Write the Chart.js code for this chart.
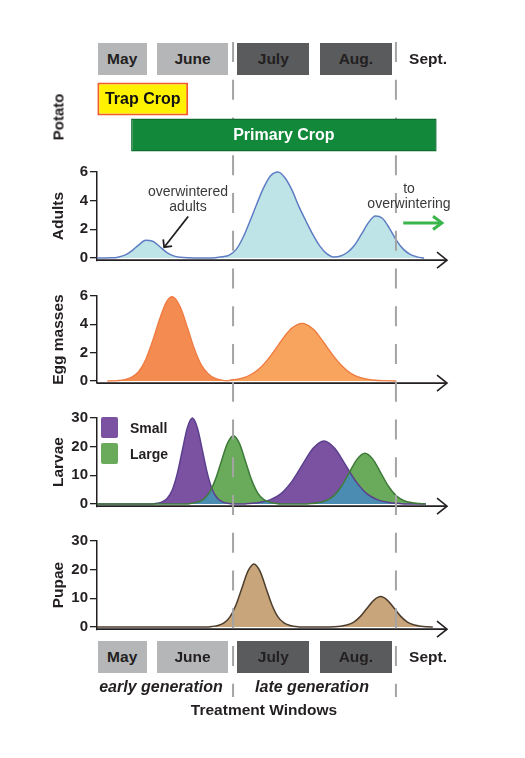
<!DOCTYPE html>
<html>
<head>
<meta charset="utf-8">
<script src="https://cdn.jsdelivr.net/npm/chart.js@4.4.1/dist/chart.umd.min.js"></script>
<style>
html,body{margin:0;padding:0;background:#fff;}
#page{position:relative;width:525px;height:758px;overflow:hidden;background:#fff;
  font-family:"Liberation Sans",Arial,Helvetica,sans-serif;color:#231f20;}
canvas{position:absolute;left:0;}
.panel{z-index:1;}
#overlay{top:0;z-index:3;}
#crop{z-index:4;}
.mbox{position:absolute;height:32px;display:flex;align-items:center;justify-content:center;
  font-weight:bold;font-size:15.5px;z-index:2;}
.light{background:#b5b6b8;}
.dark{background:#5a5b5d;}
.c{position:absolute;transform:translate(-50%,-50%);white-space:nowrap;line-height:1;z-index:5;}
.lt{position:absolute;transform:translate(0,-50%);white-space:nowrap;line-height:1;z-index:5;}
.b{font-weight:bold;}
.rot{transform:translate(-50%,-50%) rotate(-90deg);}
.note{position:absolute;text-align:center;font-size:14px;line-height:15px;color:#3a3a3a;z-index:5;}
.lg{position:absolute;width:17px;height:21px;border-radius:2px;z-index:5;box-shadow:0 0 0 1px rgba(255,255,255,0.8);}
</style>
</head>
<body>
<div id="page">
  <!-- top month row -->
  <div class="mbox light" style="left:97.7px;top:42.5px;width:49px;">May</div>
  <div class="mbox light" style="left:156.7px;top:42.5px;width:71.6px;">June</div>
  <div class="mbox dark" style="left:237.3px;top:42.5px;width:72px;">July</div>
  <div class="mbox dark" style="left:320px;top:42.5px;width:71.7px;">Aug.</div>
  <div class="c b" style="left:428px;top:58.5px;font-size:15.5px;">Sept.</div>

  <div class="c b rot" style="left:58.3px;top:117px;font-size:15px;">Potato</div>

  <canvas id="crop" width="525" height="84" style="top:76px;"></canvas>
  <canvas id="adults" class="panel" width="525" height="115" style="top:160px;"></canvas>
  <canvas id="eggs" class="panel" width="525" height="115" style="top:284px;"></canvas>
  <canvas id="larvae" class="panel" width="525" height="115" style="top:406px;"></canvas>
  <canvas id="pupae" class="panel" width="525" height="115" style="top:529px;"></canvas>
  <canvas id="overlay" width="525" height="758" style="width:525px;height:758px;"></canvas>

  <div class="note" style="left:128px;top:184px;width:120px;">overwintered<br>adults</div>
  <div class="note" style="left:349px;top:180.5px;width:120px;">to<br>overwintering</div>

  <div class="lg" style="left:101px;top:417px;background:#7b51a1;"></div>
  <div class="lg" style="left:101px;top:443px;background:#6aab5b;"></div>
  <div class="lt b" style="left:130px;top:428px;font-size:14px;">Small</div>
  <div class="lt b" style="left:130px;top:454px;font-size:14px;">Large</div>

  <!-- bottom month row -->
  <div class="mbox light" style="left:97.7px;top:640.5px;width:49px;">May</div>
  <div class="mbox light" style="left:156.7px;top:640.5px;width:71.6px;">June</div>
  <div class="mbox dark" style="left:237.3px;top:640.5px;width:72px;">July</div>
  <div class="mbox dark" style="left:320px;top:640.5px;width:71.7px;">Aug.</div>
  <div class="c b" style="left:428px;top:656.5px;font-size:15.5px;">Sept.</div>

  <div class="c b" style="left:161px;top:687px;font-size:16px;font-style:italic;">early generation</div>
  <div class="c b" style="left:312px;top:687px;font-size:16px;font-style:italic;">late generation</div>
  <div class="c b" style="left:264px;top:709.5px;font-size:15.5px;">Treatment Windows</div>
</div>

<script>
// ---------------- DATA (x = position through the season, 0-100) ----------------
const cropLabels = ['Trap Crop', 'Primary Crop'];
const cropSpans = [[0.1, 26.2], [9.8, 97.6]];
const windowBounds = [39.1, 85.9];

const adultsTicks = [0, 2, 4, 6];
const eggTicks = [0, 2, 4, 6];
const larvaeTicks = [0, 10, 20, 30];
const pupaeTicks = [0, 10, 20, 30];

const adultsX = [0, 2, 4, 6, 8, 10, 12, 14, 16, 18, 20, 22, 24, 26, 28, 34, 36, 38, 40, 42, 44, 46, 48, 50, 52, 54, 56, 58, 60, 62, 64, 66, 68, 70, 72, 74, 76, 78, 80, 82, 84, 86, 88, 90, 92, 94];
const adultsY = [0, 0, 0.01, 0.06, 0.2, 0.5, 0.92, 1.23, 1.17, 0.8, 0.4, 0.15, 0.05, 0.01, 0, 0.02, 0.08, 0.2, 0.6, 1.45, 2.6, 3.82, 4.96, 5.77, 6.0, 5.6, 4.75, 3.6, 2.6, 1.65, 0.85, 0.3, 0.07, 0.14, 0.4, 0.89, 1.66, 2.47, 2.93, 2.77, 2.09, 1.25, 0.62, 0.25, 0.08, 0];

const eggEarlyX = [3, 6, 8, 10, 12, 14, 16, 18, 20, 21.6, 24, 26, 28, 30, 32, 34, 36, 38];
const eggEarlyY = [0, 0.03, 0.1, 0.28, 0.67, 1.52, 2.84, 4.38, 5.6, 5.95, 5.19, 3.76, 2.26, 1.12, 0.5, 0.18, 0.05, 0.01];
const eggLateX = [38, 40, 42, 44, 46, 48, 50, 52, 54, 56, 59, 62, 64, 66, 68, 70, 72, 74, 76, 78, 80, 82, 86];
const eggLateY = [0.05, 0.11, 0.22, 0.42, 0.74, 1.21, 1.81, 2.5, 3.19, 3.74, 4.07, 3.69, 3.12, 2.43, 1.75, 1.16, 0.71, 0.4, 0.22, 0.11, 0.05, 0.02, 0];

const smallX = [0, 15.8, 17.25, 18.7, 20.15, 21.6, 23.05, 24.5, 25.95, 27.4, 28.85, 30.3, 31.75, 33.2, 34.65, 36.1, 37.55, 39, 42, 43.5, 46.6, 49.7, 52.8, 55.9, 59, 62.1, 65.2, 68.3, 71.4, 74.5, 77.6, 80.7, 83.8, 86.9, 89, 94.5];
const smallY = [0, 0, 0.24, 0.75, 1.95, 4.8, 10.5, 18.6, 26.55, 30, 26.55, 18.6, 10.5, 4.8, 1.95, 0.75, 0.24, 0, 0, 0.18, 0.55, 1.43, 3.52, 7.7, 13.64, 19.47, 22, 19.47, 13.64, 7.7, 3.52, 1.43, 0.55, 0.18, 0, 0];
const largeX = [0, 25.2, 26.95, 28.7, 30.45, 32.2, 33.95, 35.7, 37.45, 39.2, 40.95, 42.7, 44.45, 46.2, 47.95, 49.7, 51.45, 53, 59.5, 61.25, 63.5, 65.75, 68, 70.25, 72.5, 74.75, 77, 79.25, 81.5, 83.75, 86, 88.25, 90.5, 92.75, 94.5];
const largeY = [0, 0, 0.19, 0.6, 1.55, 3.81, 8.33, 14.76, 21.06, 23.8, 21.06, 14.76, 8.33, 3.81, 1.55, 0.6, 0.19, 0, 0, 0.14, 0.44, 1.15, 2.83, 6.2, 10.97, 15.66, 17.7, 15.66, 10.97, 6.2, 2.83, 1.15, 0.44, 0.14, 0];

const pupaeX = [0, 31.3, 33.05, 34.78, 36.5, 38.2, 39.93, 41.65, 43.38, 45.1, 46.83, 48.55, 50.28, 52, 53.73, 55.45, 57.18, 59, 66, 67.95, 69.9, 71.8, 73.8, 75.7, 77.6, 79.6, 81.5, 83.4, 85.4, 87.3, 89.2, 91.2, 93.1, 95.05, 96.5];
const pupaeY = [0, 0, 0.18, 0.55, 1.43, 3.52, 7.7, 13.64, 19.47, 22, 19.47, 13.64, 7.7, 3.52, 1.43, 0.55, 0.18, 0, 0, 0.085, 0.27, 0.69, 1.7, 3.71, 6.57, 9.38, 10.6, 9.38, 6.57, 3.71, 1.7, 0.69, 0.27, 0.085, 0];

// ---------------- RENDERING ----------------
const FONT = '"Liberation Sans", Arial, Helvetica, sans-serif';
Chart.defaults.font.family = FONT;
Chart.defaults.color = '#231f20';

function pts(xs, ys) { return xs.map((x, i) => ({ x: x, y: ys[i] })); }

function arrow(ctx, x0, y0, x1, y1, color, w, head, spread) {
  const ang = Math.atan2(y1 - y0, x1 - x0);
  ctx.save();
  ctx.strokeStyle = color; ctx.lineWidth = w; ctx.lineCap = 'butt'; ctx.lineJoin = 'miter';
  ctx.beginPath(); ctx.moveTo(x0, y0); ctx.lineTo(x1, y1); ctx.stroke();
  ctx.beginPath();
  ctx.moveTo(x1 - head * Math.cos(ang - spread), y1 - head * Math.sin(ang - spread));
  ctx.lineTo(x1, y1);
  ctx.lineTo(x1 - head * Math.cos(ang + spread), y1 - head * Math.sin(ang + spread));
  ctx.stroke();
  ctx.restore();
}

const xAxisPlugin = {
  id: 'xAxisArrow',
  afterDatasetsDraw(chart) {
    const { ctx, chartArea: a } = chart;
    const y = a.bottom;
    ctx.save();
    ctx.strokeStyle = '#231f20'; ctx.lineWidth = 1.6;
    ctx.beginPath(); ctx.moveTo(a.left - 0.5, y); ctx.lineTo(a.right + 2, y); ctx.stroke();
    ctx.beginPath(); ctx.moveTo(a.right - 8, y - 8); ctx.lineTo(a.right + 2, y); ctx.lineTo(a.right - 8, y + 8); ctx.stroke();
    ctx.restore();
  }
};

const adultsNotes = {
  id: 'adultsNotes',
  afterDatasetsDraw(chart) {
    const { ctx, scales: { x, y } } = chart;
    arrow(ctx, x.getPixelForValue(26.2), y.getPixelForValue(2.9), x.getPixelForValue(19.3), y.getPixelForValue(0.75), '#231f20', 1.8, 8, 0.78);
    arrow(ctx, x.getPixelForValue(88), y.getPixelForValue(2.45), x.getPixelForValue(99.1), y.getPixelForValue(2.45), '#3ab54a', 3, 11, 0.64);
  }
};

function panel(id, datasets, yMin, yMax, ticks, title, padTop, padBottom, extra) {
  return new Chart(document.getElementById(id), {
    type: 'line',
    data: { datasets: datasets },
    options: {
      responsive: false, animation: false, events: [],
      layout: { padding: { left: 0, right: 80, top: padTop, bottom: padBottom } },
      plugins: { legend: { display: false }, tooltip: { enabled: false }, filler: { drawTime: 'beforeDatasetsDraw' } },
      elements: { point: { radius: 0 }, line: { cubicInterpolationMode: 'monotone', borderWidth: 1.5 } },
      scales: {
        x: { type: 'linear', min: 0, max: 100, display: false },
        y: {
          type: 'linear', min: yMin, max: yMax,
          afterBuildTicks: (s) => { s.ticks = ticks.map(v => ({ value: v })); },
          afterFit: (s) => { s.width = 97; },
          grid: { drawOnChartArea: false, drawTicks: true, tickLength: 7, color: '#231f20', lineWidth: 1.3 },
          border: { display: true, color: '#231f20', width: 1.5 },
          ticks: { padding: 2, color: '#231f20', font: { size: 15, weight: 'bold' } },
          title: { display: true, text: title, color: '#231f20', font: { size: 15.5, weight: 'bold' }, padding: { top: 49, bottom: 0 } }
        }
      }
    },
    plugins: [xAxisPlugin].concat(extra || [])
  });
}

const adultsChart = panel('adults', [
  { data: pts(adultsX, adultsY), borderColor: '#5f7dc3', backgroundColor: '#bee4e8', fill: 'origin', clip: 6 }
], -0.15, 6, adultsTicks, 'Adults', 12, 14.85, [adultsNotes]);

panel('eggs', [
  { data: pts(eggEarlyX, eggEarlyY), borderColor: '#ef7a3f', backgroundColor: '#f48c52', fill: 'origin', borderWidth: 1.3, clip: 6 },
  { data: pts(eggLateX, eggLateY), borderColor: '#ef7a3f', backgroundColor: '#f8a35e', fill: 'origin', borderWidth: 1.3, clip: 6 }
], -0.15, 6, eggTicks, 'Egg masses', 12, 15.9);

panel('larvae', [
  { data: pts(largeX, largeY), borderColor: '#3f7b3a', backgroundColor: '#6aab5b',
    fill: { target: 1, above: '#6aab5b', below: '#7b51a1' }, clip: 6 },
  { data: pts(smallX, smallY), borderColor: '#5b3f8e', backgroundColor: '#7b51a1', fill: false, clip: 6 },
  { data: pts(largeX, largeY), borderColor: 'rgba(0,0,0,0)', borderWidth: 0, backgroundColor: '#4a8cb2', fill: 'origin' }
], -0.75, 30, larvaeTicks, 'Larvae', 12, 14.85);

panel('pupae', [
  { data: pts(pupaeX, pupaeY), borderColor: '#4d3d2d', backgroundColor: '#c8a57a', fill: 'origin', clip: 6 }
], -0.75, 30, pupaeTicks, 'Pupae', 12, 14.85);

// crop bars
const cropTextColors = ['#111111', '#ffffff'];
const cropLabelPlugin = {
  id: 'cropLabels',
  afterDatasetsDraw(chart) {
    const { ctx } = chart;
    const meta = chart.getDatasetMeta(0);
    ctx.save();
    ctx.font = 'bold 16px ' + FONT;
    ctx.textAlign = 'center'; ctx.textBaseline = 'middle';
    meta.data.forEach((bar, i) => {
      ctx.fillStyle = cropTextColors[i];
      ctx.fillText(chart.data.labels[i], (bar.x + bar.base) / 2, bar.y + 1);
    });
    ctx.restore();
  }
};
new Chart(document.getElementById('crop'), {
  type: 'bar',
  data: {
    labels: cropLabels,
    datasets: [{
      data: cropSpans,
      backgroundColor: ['#fff200', '#12893a'],
      borderColor: ['#f15a29', '#0b6e2c'],
      borderWidth: [2, 1.5],
      borderSkipped: false,
      barPercentage: 1, categoryPercentage: 0.92
    }]
  },
  options: {
    indexAxis: 'y', responsive: false, animation: false, events: [],
    layout: { padding: { left: 97, right: 80, top: 5, bottom: 7 } },
    scales: { x: { type: 'linear', min: 0, max: 100, display: false }, y: { display: false } },
    plugins: { legend: { display: false }, tooltip: { enabled: false } }
  },
  plugins: [cropLabelPlugin]
});

// dashed treatment-window boundaries
(function () {
  const cv = document.getElementById('overlay');
  const dpr = window.devicePixelRatio || 1;
  cv.width = 525 * dpr; cv.height = 758 * dpr;
  const ctx = cv.getContext('2d');
  ctx.scale(dpr, dpr);
  const xs = adultsChart.scales.x;
  ctx.strokeStyle = '#a4a4a4'; ctx.lineWidth = 2; ctx.setLineDash([20, 17.75]);
  windowBounds.forEach(b => {
    const px = xs.getPixelForValue(b);
    ctx.beginPath(); ctx.moveTo(px, 42); ctx.lineTo(px, 697); ctx.stroke();
  });
})();
</script>
</body>
</html>
